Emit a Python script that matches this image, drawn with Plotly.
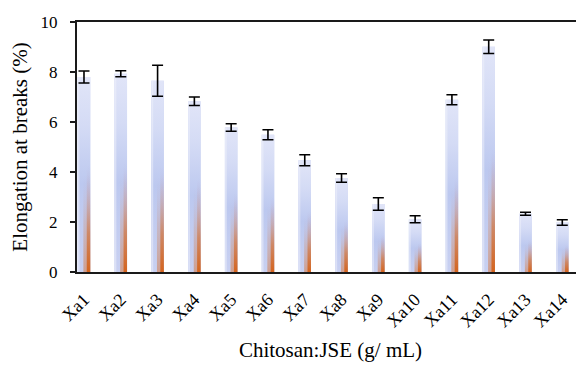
import plotly.graph_objects as go

categories = ["Xa1", "Xa2", "Xa3", "Xa4", "Xa5", "Xa6", "Xa7", "Xa8", "Xa9", "Xa10", "Xa11", "Xa12", "Xa13", "Xa14"]
elongation = [7.80, 7.93, 7.65, 6.83, 5.78, 5.49, 4.47, 3.76, 2.72, 2.11, 6.89, 9.01, 2.33, 1.98]
elongation_sd = [0.24, 0.12, 0.62, 0.17, 0.15, 0.20, 0.22, 0.17, 0.25, 0.14, 0.20, 0.27, 0.06, 0.11]
y_ticks = [0, 2, 4, 6, 8, 10]

FONT = "Liberation Serif, Times New Roman, serif"
BAR_W = 0.34
xs = list(range(len(categories)))

fig = go.Figure()

# base bars
fig.add_trace(go.Bar(
    x=xs, y=elongation, width=BAR_W,
    marker=dict(color="#cbd3f1", line=dict(width=0)),
    hoverinfo="skip", showlegend=False,
))

def rect(x0, x1, top):
    return [x0, x1, x1, x0, x0], [0, 0, top, top, 0]

for i, v in zip(xs, elongation):
    hw = BAR_W / 2
    px, py = rect(i - hw, i + hw, v)
    fig.add_trace(go.Scatter(
        x=px, y=py, mode="lines", fill="toself", line=dict(width=0),
        fillgradient=dict(type="vertical", colorscale=[
            [0.0, "#c8d0f1"], [0.45, "#bcc8ef"], [0.75, "#d4dbf5"], [1.0, "#e1e5f8"]]),
        hoverinfo="skip", showlegend=False,
    ))
    px, py = rect(i + hw - BAR_W * 0.55, i + hw, v)
    fig.add_trace(go.Scatter(
        x=px, y=py, mode="lines", fill="toself", line=dict(width=0),
        fillgradient=dict(type="vertical", colorscale=[
            [0.0, "rgba(214,110,45,0.5)"], [0.25, "rgba(205,140,110,0.3)"],
            [0.5, "rgba(190,180,210,0.0)"], [1.0, "rgba(190,190,230,0.0)"]]),
        hoverinfo="skip", showlegend=False,
    ))
    px, py = rect(i + hw - BAR_W * 0.28, i + hw, v)
    fig.add_trace(go.Scatter(
        x=px, y=py, mode="lines", fill="toself", line=dict(width=0),
        fillgradient=dict(type="vertical", colorscale=[
            [0.0, "rgba(212,100,30,1.0)"], [0.2, "rgba(208,125,80,0.8)"],
            [0.42, "rgba(196,165,175,0.4)"], [0.55, "rgba(190,190,230,0.0)"],
            [1.0, "rgba(190,190,230,0.0)"]]),
        hoverinfo="skip", showlegend=False,
    ))
    px, py = rect(i - hw, i - hw + BAR_W * 0.15, v)
    fig.add_trace(go.Scatter(
        x=px, y=py, mode="lines", fill="toself", line=dict(width=0),
        fillcolor="rgba(240,242,252,0.5)",
        hoverinfo="skip", showlegend=False,
    ))

fig.add_trace(go.Scatter(
    x=xs, y=elongation, mode="markers",
    marker=dict(size=0.1, color="rgba(0,0,0,0)"),
    error_y=dict(type="data", array=elongation_sd, visible=True,
                 color="black", thickness=1.6, width=5.5),
    hoverinfo="skip", showlegend=False,
))

fig.update_layout(
    width=576, height=358,
    margin=dict(l=69, r=0, t=14, b=94),
    plot_bgcolor="white", paper_bgcolor="white",
    font=dict(family=FONT, color="black", size=18),
    showlegend=False,
    xaxis=dict(
        range=[-0.19, 13.59], tickmode="array", tickvals=xs, ticktext=categories,
        tickangle=-45, ticks="", showline=True, linecolor="#1a1a1a", linewidth=2,
        mirror=True, showgrid=False, zeroline=False,
        tickfont=dict(family=FONT, size=18), ticklabelstandoff=8,
        title=dict(text="Chitosan:JSE (g/ mL)", font=dict(family=FONT, size=21), standoff=12),
    ),
    yaxis=dict(
        range=[0, 10], tickmode="array", tickvals=y_ticks,
        ticks="outside", ticklen=5, tickwidth=2, tickcolor="#1a1a1a",
        showline=True, linecolor="#1a1a1a", linewidth=2, showgrid=False, zeroline=False,
        tickfont=dict(family=FONT, size=17), ticklabelstandoff=9,
        title=dict(text="Elongation at breaks (%)", font=dict(family=FONT, size=21), standoff=12),
    ),
)

fig.write_html("out.html")
